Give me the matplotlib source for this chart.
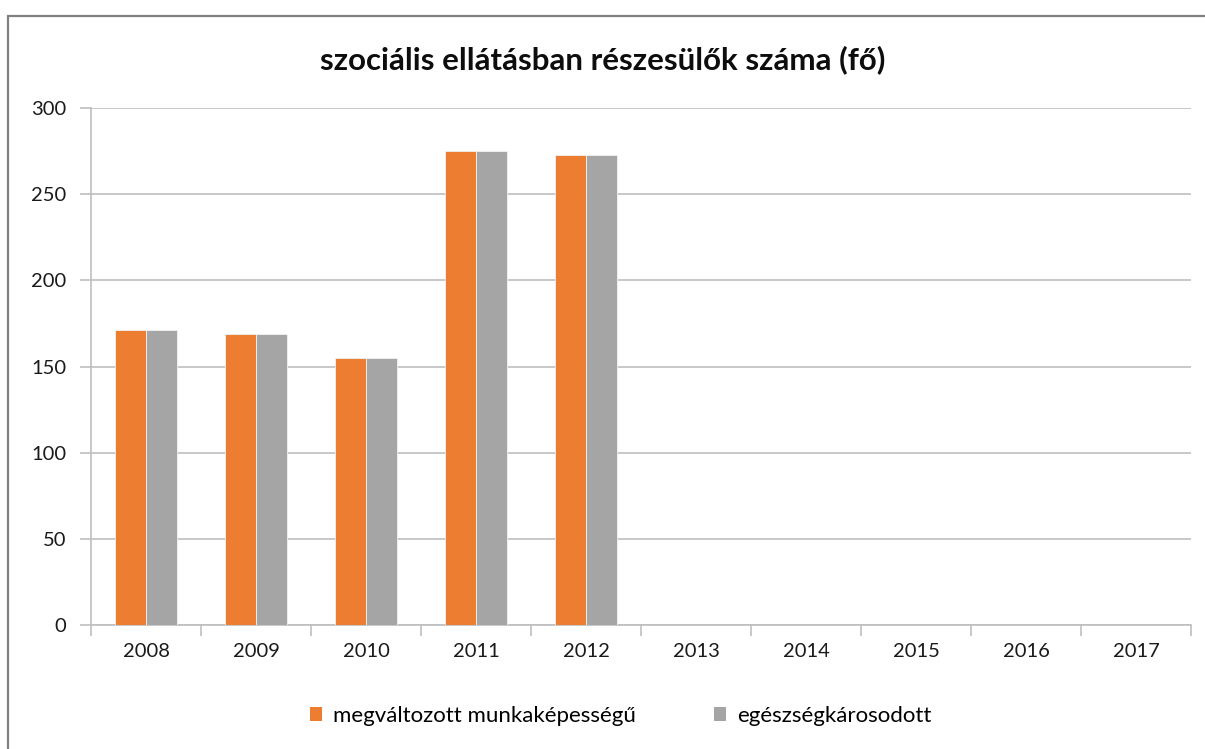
import numpy as np
import matplotlib.pyplot as plt
from matplotlib.patches import Rectangle, Patch

plt.rcParams['font.family'] = ['Lato', 'DejaVu Sans']

years = ['2008', '2009', '2010', '2011', '2012', '2013', '2014', '2015', '2016', '2017']
megvaltozott = [171, 169, 155, 275, 273, np.nan, np.nan, np.nan, np.nan, np.nan]
egeszsegkarosodott = [171, 169, 155, 275, 273, np.nan, np.nan, np.nan, np.nan, np.nan]
series_names = ['megváltozott munkaképességű', 'egészségkárosodott']

ORANGE = '#ED7D31'
GREY = '#A5A5A5'
GRID = '#BFBFBF'

fig = plt.figure(figsize=(12.05, 7.49), dpi=100)
ax = fig.add_axes([91 / 1205, 1 - 625 / 749, 1100 / 1205, (625 - 108) / 749])

# chart border
fig.patches.append(Rectangle((8 / 1205, -0.1), 2, 1 - 16 / 749 + 0.1, transform=fig.transFigure,
                             fill=False, edgecolor='#808080', linewidth=1.6))

x = np.arange(len(years))
w = 0.28
ax.bar(x - w / 2, megvaltozott, w, color=ORANGE, edgecolor='#F2F2F2', linewidth=0.6, zorder=3)
ax.bar(x + w / 2, egeszsegkarosodott, w, color=GREY, edgecolor='#F2F2F2', linewidth=0.6, zorder=3)

ax.set_ylim(0, 300)
ax.set_xlim(-0.5, len(years) - 0.5)
ax.set_yticks(np.arange(0, 301, 50))
ax.yaxis.grid(True, color=GRID, linewidth=1.2, zorder=0)

# category boundaries as major ticks, year labels on minor ticks
ax.set_xticks(np.arange(-0.5, len(years), 1.0))
ax.set_xticklabels([])
ax.set_xticks(x, minor=True)
ax.set_xticklabels(years, minor=True)
ax.tick_params(axis='x', which='major', length=8, color=GRID, width=1.2)
ax.tick_params(axis='x', which='minor', length=0, pad=13, labelsize=14.5, labelcolor='#1a1a1a')
ax.tick_params(axis='y', length=8, color=GRID, width=1.2, pad=10, labelsize=14.5, labelcolor='#1a1a1a')

for side in ['top', 'right']:
    ax.spines[side].set_visible(False)
for side in ['left', 'bottom']:
    ax.spines[side].set_color(GRID)
    ax.spines[side].set_linewidth(1.2)

fig.text(0.5, 1 - 60 / 749, 'szociális ellátásban részesülők száma (fő)', ha='center', va='center',
         fontsize=22.5, fontweight='bold', color='#0d0d0d')

handles = [Patch(facecolor=ORANGE), Patch(facecolor=GREY)]
fig.legend(handles, series_names, loc='center', bbox_to_anchor=(621 / 1205, 1 - 716 / 749), ncol=2,
           frameon=False, fontsize=16, handlelength=0.55, handleheight=0.55, handletextpad=0.5,
           columnspacing=3.5)

fig.savefig('out.png', dpi=100, facecolor='white')
